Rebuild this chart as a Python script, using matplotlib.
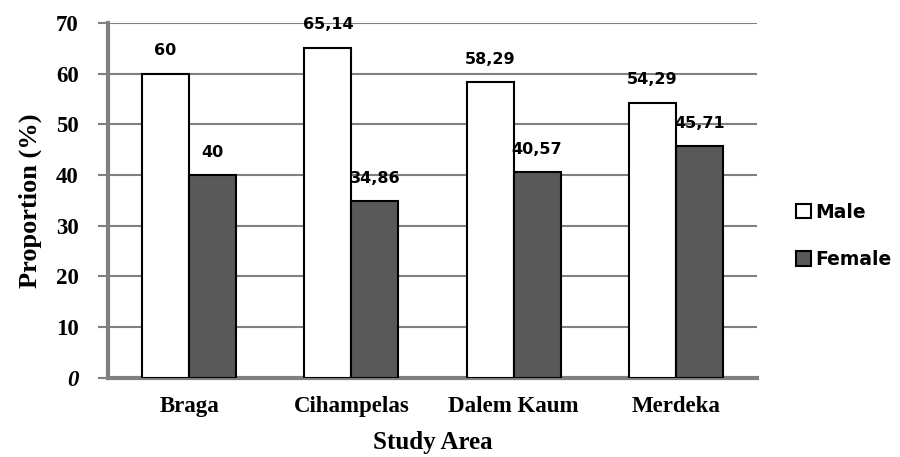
import numpy as np
import matplotlib.pyplot as plt

areas = ["Braga", "Cihampelas", "Dalem Kaum", "Merdeka"]
male = [60, 65.14, 58.29, 54.29]
female = [40, 34.86, 40.57, 45.71]
male_lbl = ["60", "65,14", "58,29", "54,29"]
female_lbl = ["40", "34,86", "40,57", "45,71"]

fig = plt.figure(figsize=(9, 4.57), dpi=100)
ax = fig.add_axes([0.12, 0.173, 0.721, 0.777])

x = np.arange(len(areas))
w = 0.29
ax.bar(x - w / 2, male, w, color="white", edgecolor="black", linewidth=1.5, label="Male", zorder=3)
ax.bar(x + w / 2, female, w, color="#595959", edgecolor="black", linewidth=1.5, label="Female", zorder=3)

# value labels above each bar
lbl_font = dict(family="DejaVu Sans", fontsize=11.5, fontweight="bold", ha="center", va="bottom")
for i in range(len(areas)):
    ax.text(x[i] - w / 2, male[i] + 3.0, male_lbl[i], **lbl_font)
    ax.text(x[i] + w / 2, female[i] + 3.0, female_lbl[i], **lbl_font)

serif = dict(fontname="Liberation Serif", fontsize=16.5, fontweight="bold")
ax.set_xlim(-0.5, 3.5)
ax.set_ylim(0, 70)
ax.set_yticks(range(0, 71, 10))
ax.set_yticklabels([str(v) for v in range(0, 71, 10)], **serif)
ax.get_yticklabels()[0].set_style("italic")
ax.set_xticks(x)
ax.set_xticklabels(areas, **serif)
ax.tick_params(axis="x", length=0, pad=13)
ax.tick_params(axis="y", length=7, width=1.5, color="#808080", pad=14)

ax.grid(axis="y", color="#808080", linewidth=1.5, zorder=0)
for s in ["top", "right"]:
    ax.spines[s].set_visible(False)
for s in ["left", "bottom"]:
    ax.spines[s].set_color("#808080")
    ax.spines[s].set_linewidth(3)

ax.set_ylabel("Proportion (%)", fontname="Liberation Serif", fontsize=19, fontweight="bold", labelpad=10)
ax.set_xlabel("Study Area", fontname="Liberation Serif", fontsize=18, fontweight="bold", labelpad=10)

leg = ax.legend(loc="center left", bbox_to_anchor=(1.035, 0.40), frameon=False,
                prop={"family": "DejaVu Sans", "size": 13.5, "weight": "bold"},
                handlelength=0.8, handleheight=0.8, handletextpad=0.2, labelspacing=1.5)

fig.savefig("out.png", dpi=100)
